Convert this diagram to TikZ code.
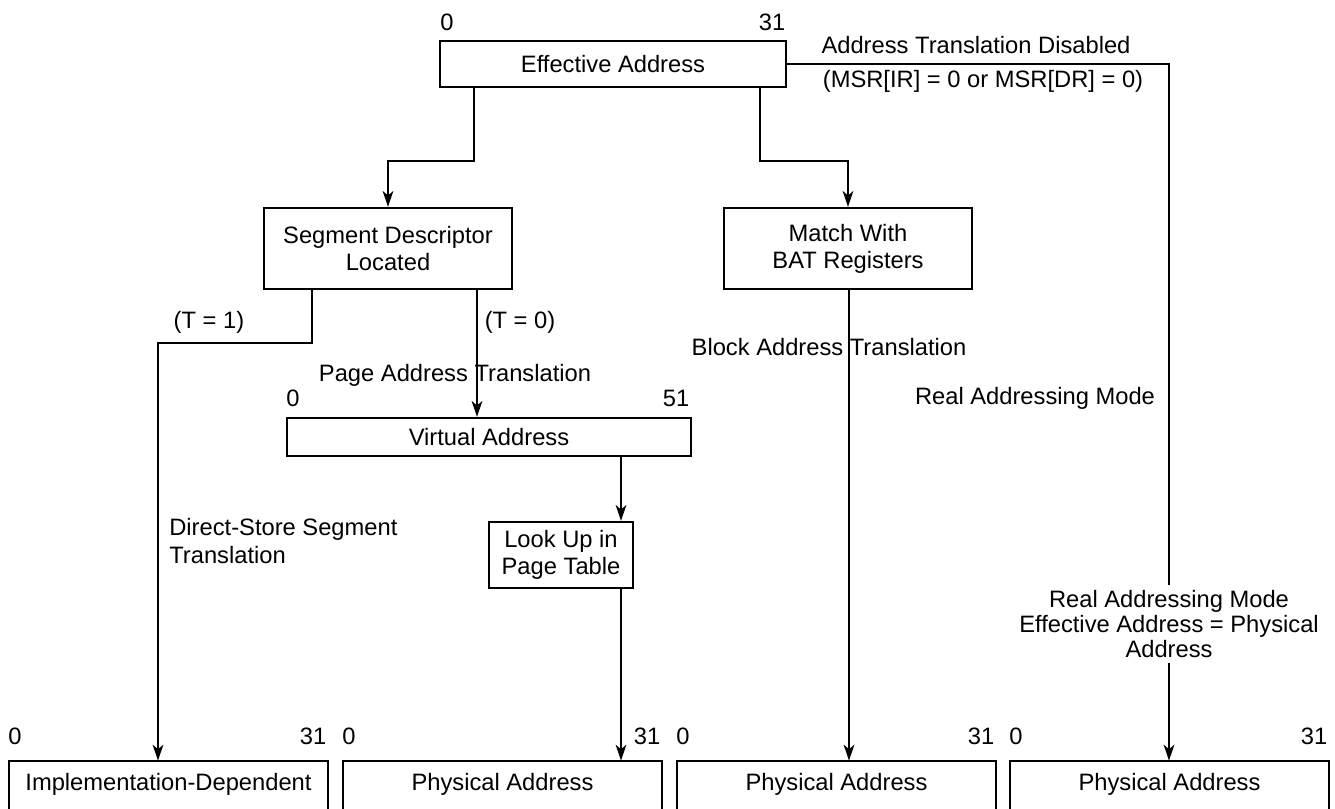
\documentclass[tikz,border=0pt]{standalone}
\usepackage{fontspec}
\setmainfont{Liberation Sans}
\usetikzlibrary{arrows.meta}
\begin{document}
\begin{tikzpicture}[x=0.02cm,y=-0.02cm,
  every node/.style={font=\fontsize{13.5}{15.4}\selectfont, inner sep=0pt},
  box/.style={draw, line width=1.25pt, align=center},
  openbox/.style={align=center, minimum width=6.38cm, minimum height=0.92cm},
  conn/.style={line width=1.25pt},
  arr/.style={conn,-{Stealth[length=9pt,width=6pt,inset=2.5pt]}}]
\useasboundingbox (0,0) rectangle (1335,808);
\clip (0,0) rectangle (1335,808);

% boxes
\node[box, minimum width=6.92cm, minimum height=0.92cm] (ea) at (613,64) {Effective Address};
\node[box, minimum width=4.96cm, minimum height=1.62cm] (seg) at (388,248.5) {Segment Descriptor\\Located};
\node[box, minimum width=4.96cm, minimum height=1.62cm] (bat) at (848,248.5) {Match With\\BAT Registers};
\node[box, minimum width=8.08cm, minimum height=0.76cm] (va) at (489,437) {Virtual Address};
\node[box, minimum width=2.88cm, minimum height=1.32cm] (lu) at (561,555) {Look Up in\\Page Table};
\node[openbox] (b1) at (168.5,784) {Implementation-Dependent};
\node[openbox] (b2) at (502.5,784) {Physical Address};
\node[openbox] (b3) at (836.5,784) {Physical Address};
\node[openbox] (b4) at (1169.5,784) {Physical Address};
\foreach \b in {b1,b2,b3,b4}
  \draw[conn] ([yshift=-6pt]\b.south west) |- (\b.north east) -- ([yshift=-6pt]\b.south east);

% bit labels
\node (ea0) at (447,22) {0};
\node (ea31) at (772,22) {31};
\node (va0) at (293,398) {0};
\node (va51) at (676,398) {51};
\node (b10) at (15,736) {0};
\node (b131) at (313,736) {31};
\node (b20) at (349,736) {0};
\node (b231) at (647,736) {31};
\node (b30) at (683,736) {0};
\node (b331) at (981,736) {31};
\node (b40) at (1016,736) {0};
\node (b431) at (1314,736) {31};

% other texts
\node (atd) at (976,45) {Address Translation Disabled};
\node (msr) at (983,81) {(MSR[IR] = 0 or MSR[DR] = 0)};
\node (t1) at (209,322) {(T = 1)};
\node (t0) at (520,322) {(T = 0)};
\node (pat) at (455,375) {Page Address Translation};
\node (blk) at (829,347) {Block Address Translation};
\node (ram) at (1035,398) {Real Addressing Mode};
\node[align=left, anchor=west] (dss) at (169,541) {Direct-Store Segment\\Translation};
\node[align=center, inner sep=3pt, font=\fontsize{13.5}{14.2}\selectfont] (rt) at (1169,624) {Real Addressing Mode\\Effective Address = Physical\\Address};

% column coordinates
\coordinate (c158) at (158,0);
\coordinate (c312) at (312,0);
\coordinate (c474) at (474,0);
\coordinate (c477) at (477,0);
\coordinate (c621) at (621,0);
\coordinate (c760) at (760,0);
\coordinate (c849) at (849,0);

% connectors
\draw[arr] (ea.south -| c474) -- ++(0,73) -| (seg.north);
\draw[arr] (ea.south -| c760) -- ++(0,73) -| (bat.north);
\draw[arr] (seg.south -| c312) -- ++(0,53) -| (b1.north -| c158);
\draw[arr] (seg.south -| c477) -- (va.north -| c477);
\draw[arr] (va.south -| c621) -- (lu.north -| c621);
\draw[arr] (lu.south -| c621) -- (b2.north -| c621);
\draw[arr] (bat.south -| c849) -- (b3.north -| c849);
\draw[conn] (ea.east) -| (rt.north);
\draw[arr] (rt.south) -- (b4.north -| rt.south);
\end{tikzpicture}
\end{document}
